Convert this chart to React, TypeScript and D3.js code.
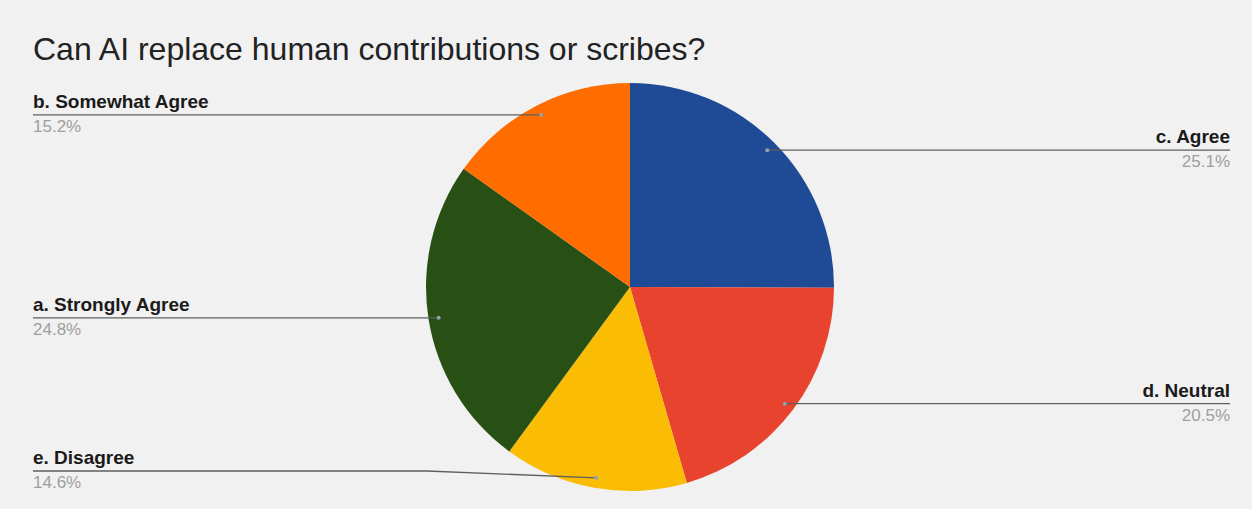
import React from "react";
import * as d3 from "d3";

const categories = ["c. Agree", "d. Neutral", "e. Disagree", "a. Strongly Agree", "b. Somewhat Agree"];
const values = [25.1, 20.5, 14.6, 24.8, 15.2];
const pctLabels = ["25.1%", "20.5%", "14.6%", "24.8%", "15.2%"];
const colors = ["#1f4a95", "#e8432f", "#fbbc04", "#284f14", "#ff6d01"];
const title = "Can AI replace human contributions or scribes?";

const W = 1252;
const H = 509;
const cx = 630;
const cy = 287;
const R = 204;
const leftX = 33;
const rightX = 1230;
const maxLineY = 471;
const font = "'Liberation Sans', Arial, Helvetica, sans-serif";

export default function App() {
  const pie = d3.pie<number>().sort(null).value((d) => d)(values);
  const arc = d3.arc<d3.PieArcDatum<number>>().innerRadius(0).outerRadius(R);
  const dotArc = d3.arc<d3.PieArcDatum<number>>().innerRadius(R * 0.95).outerRadius(R * 0.95);

  return (
    <svg width={W} height={H} style={{ position: "absolute", left: 0, top: 0 }} fontFamily={font}>
      <rect x={0} y={0} width={W} height={H} fill="#f1f1f1" />
      <text x={leftX} y={60} fontSize={32} fill="#222">{title}</text>
      <g transform={`translate(${cx},${cy})`}>
        {pie.map((p, i) => (
          <path key={i} d={arc(p) || ""} fill={colors[i]} />
        ))}
      </g>
      {pie.map((p, i) => {
        const [dx, dy] = dotArc.centroid(p);
        const px = cx + dx;
        const py = cy + dy;
        const mid = (p.startAngle + p.endAngle) / 2;
        const right = mid < Math.PI;
        const lineY = Math.min(py, maxLineY);
        const endX = right ? rightX : leftX;
        let pts: [number, number][];
        if (Math.abs(lineY - py) > 0.5) {
          const bendX = right ? px + 169 : px - 169;
          pts = [[endX, lineY], [bendX, lineY], [px, py]];
        } else {
          pts = [[endX, lineY], [px, py]];
        }
        const line = d3.line()(pts) || "";
        const anchor = right ? "end" : "start";
        return (
          <g key={i}>
            <path d={line} fill="none" stroke="#5f5f5f" strokeWidth={1.3} />
            <circle cx={px} cy={py} r={2} fill="#8fa4ac" />
            <text x={endX} y={lineY - 7} fontSize={19} fontWeight="bold" fill="#1a1a1a" textAnchor={anchor}>
              {categories[i]}
            </text>
            <text x={endX} y={lineY + 17} fontSize={17} fill="#9e9e9e" textAnchor={anchor}>
              {pctLabels[i]}
            </text>
          </g>
        );
      })}
    </svg>
  );
}
